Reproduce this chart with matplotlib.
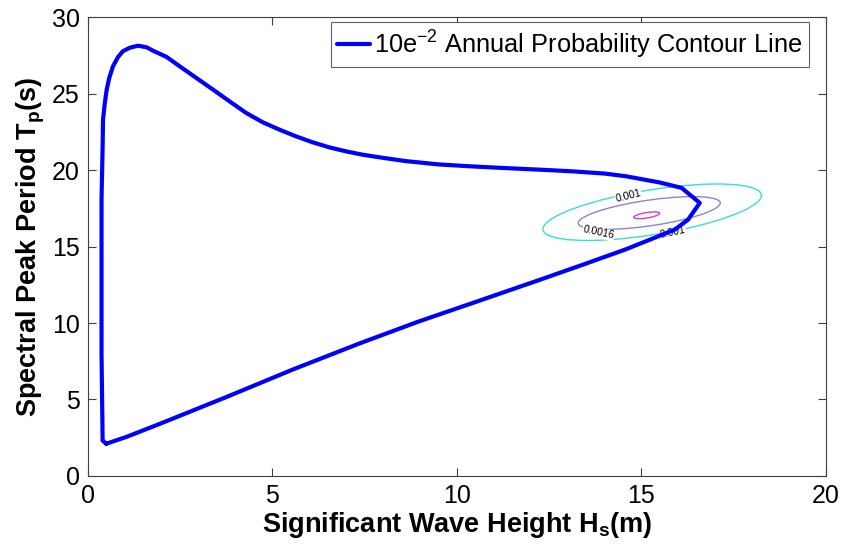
import matplotlib
matplotlib.use('Agg')
import matplotlib.pyplot as plt
from matplotlib.patches import Ellipse

plt.rcParams['font.family'] = ['Liberation Sans', 'DejaVu Sans']
plt.rcParams['mathtext.fontset'] = 'custom'
plt.rcParams['mathtext.rm'] = 'Liberation Sans'
plt.rcParams['mathtext.bf'] = 'Liberation Sans:bold'
plt.rcParams['mathtext.it'] = 'Liberation Sans:italic'

#  annual probability contour, Hs in m, Tp in s
#  starts at the bottom-left corner, goes up the left side, over the top,
#  round the tip and back along the bottom
hs_contour = [0.50, 0.40, 0.37, 0.37, 0.37, 0.40, 0.41, 0.46, 0.51, 0.58,
              0.68, 0.82, 0.95, 1.14, 1.36, 1.59, 1.76, 2.13, 2.49, 2.94,
              3.39, 3.84, 4.29, 4.74, 5.19, 5.64, 6.09, 6.54, 6.99, 7.44,
              7.89, 8.61, 9.51, 10.41, 11.32, 12.22, 13.12, 14.02, 14.60, 15.50,
              16.10, 16.59, 16.27, 15.91, 15.46, 14.56, 13.40, 12.22, 10.60, 8.97,
              7.35, 5.55, 3.75, 1.95, 1.05, 0.50]
tp_contour = [2.10, 2.30, 8.00, 14.00, 18.07, 21.57, 23.31, 24.41, 25.28, 26.04,
              26.80, 27.42, 27.79, 28.02, 28.15, 28.05, 27.83, 27.42, 26.80, 26.04,
              25.28, 24.51, 23.75, 23.14, 22.66, 22.22, 21.83, 21.50, 21.24, 21.02,
              20.85, 20.60, 20.38, 20.25, 20.14, 20.04, 19.93, 19.78, 19.60, 19.20,
              18.84, 17.86, 16.76, 16.11, 15.67, 14.80, 13.80, 12.80, 11.45, 10.10,
              8.65, 6.95, 5.15, 3.40, 2.55, 2.10]

#  density contours: level, centre, full axes, tilt (data units)
pdf_levels = ['0.001', '0.0016', '0.0022']
pdf_hs_centre = [15.30, 15.22, 15.15]
pdf_tp_centre = [17.25, 17.20, 17.05]
pdf_width = [6.42, 4.11, 0.76]
pdf_height = [2.74, 1.59, 0.33]
pdf_angle = [25.3, 22.3, 25.4]
pdf_colors = ['#38dcdc', '#8a84d6', '#d93fc4']

#  inline contour labels
label_text = ['0.001', '0.0016', '0.001']
label_hs = [14.65, 13.84, 15.86]
label_tp = [18.34, 15.90, 15.90]
label_rot = [14, -12, 12]


def main():
    fig = plt.figure(figsize=(8.45, 5.45), dpi=100)
    ax = fig.add_axes([0.104, 0.127, 0.873, 0.841])

    for i in range(len(pdf_levels)):
        ell = Ellipse((pdf_hs_centre[i], pdf_tp_centre[i]), pdf_width[i], pdf_height[i],
                      angle=pdf_angle[i], fill=False, edgecolor=pdf_colors[i],
                      linewidth=1.0, zorder=2)
        ax.add_patch(ell)

    for i in range(len(label_text)):
        ax.text(label_hs[i], label_tp[i], label_text[i], fontsize=7.5,
                rotation=label_rot[i], ha='center', va='center', zorder=2.5,
                bbox=dict(facecolor='white', edgecolor='none', pad=0.3))

    ax.plot(hs_contour, tp_contour, color='#0000ff', linewidth=3,
            solid_joinstyle='round', solid_capstyle='round', zorder=3,
            label=r'10e$^{-2}$ Annual Probability Contour Line')

    ax.set_xlim(0, 20)
    ax.set_ylim(0, 30)
    ax.set_xticks([0, 5, 10, 15, 20])
    ax.set_yticks([0, 5, 10, 15, 20, 25, 30])
    ax.tick_params(direction='in', length=5.5, width=0.8, colors='#404040',
                   labelcolor='black', labelsize=18, top=True, right=True, pad=6)
    for s in ax.spines.values():
        s.set_color('#404040')
        s.set_linewidth(0.8)

    ax.set_xlabel(r'Significant Wave Height H$_{\mathbf{s}}$(m)', fontsize=19.5,
                  fontweight='bold', labelpad=1)
    ax.set_ylabel(r'Spectral Peak Period T$_{\mathbf{p}}$(s)', fontsize=19.5,
                  fontweight='bold', labelpad=3)

    leg = ax.legend(loc='upper right', bbox_to_anchor=(0.977, 0.99), borderaxespad=0,
                    fontsize=18.3, fancybox=False, handlelength=1.3, handletextpad=0.15,
                    borderpad=0.25, framealpha=1)
    leg.get_frame().set_edgecolor('#606060')
    leg.get_frame().set_linewidth(0.8)

    fig.savefig('out.png', dpi=100, facecolor='white')
    plt.close(fig)


if __name__ == "__main__":
    main()
